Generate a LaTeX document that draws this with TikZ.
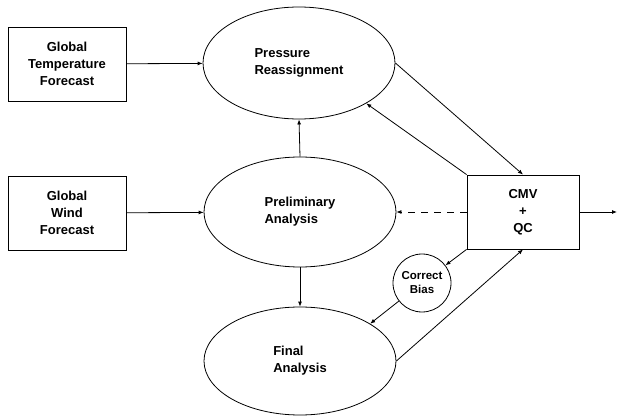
\documentclass[tikz,border=0pt]{standalone}
\usepackage{fontspec}
\setmainfont{Liberation Sans}
\usetikzlibrary{arrows.meta,shapes.geometric}
\begin{document}
\begin{tikzpicture}[x=1pt,y=-1pt,
  font=\bfseries\fontsize{13}{17}\selectfont,
  line width=0.8pt,
  box/.style={draw, minimum width=118pt, minimum height=74pt, align=center, inner sep=0pt},
  ell/.style={draw, ellipse, minimum width=192pt, minimum height=110pt, align=left, inner sep=0pt},
  biasnode/.style={draw, circle, minimum size=58pt, inner sep=0pt, align=center,
    font=\bfseries\fontsize{11.5}{14}\selectfont},
  arr/.style={-{Latex[length=5pt,width=4pt]}}]
\useasboundingbox (0,0) rectangle (619,417);
\node[box] (temp) at (67,64) {Global\\Temperature\\Forecast};
\node[box] (wind) at (67,213) {Global\\Wind\\Forecast};
\node[ell, minimum height=112pt] (pres) at (299,63) {Pressure\\Reassignment};
\node[ell] (prel) at (300,212) {Preliminary\\Analysis};
\node[ell, minimum height=108pt] (final) at (300,361) {Final\\Analysis};
\node[box, minimum width=112pt] (cmv) at (523,212) {CMV\\+\\QC};
\node[biasnode] (bias) at (422,283) {Correct\\Bias};
\coordinate (out) at (617,212);

\draw[arr] (temp) -- (pres);
\draw[arr] (wind) -- (prel);
\draw[arr] (prel.north) -- (pres.south);
\draw[arr] (prel.south) -- (final.north);
\draw[arr] (pres.east) -- (cmv.north);
\draw[arr] (cmv.north west) -- (pres.-31);
\draw[arr, dash pattern=on 7pt off 6pt] (cmv.west) -- (prel.east);
\draw[arr] (cmv.south west) -- (bias);
\draw[arr] (bias.218) -- (final.28);
\draw[arr] (final.east) -- (cmv.south);
\draw[arr] (cmv.east) -- (out);
\end{tikzpicture}
\end{document}
